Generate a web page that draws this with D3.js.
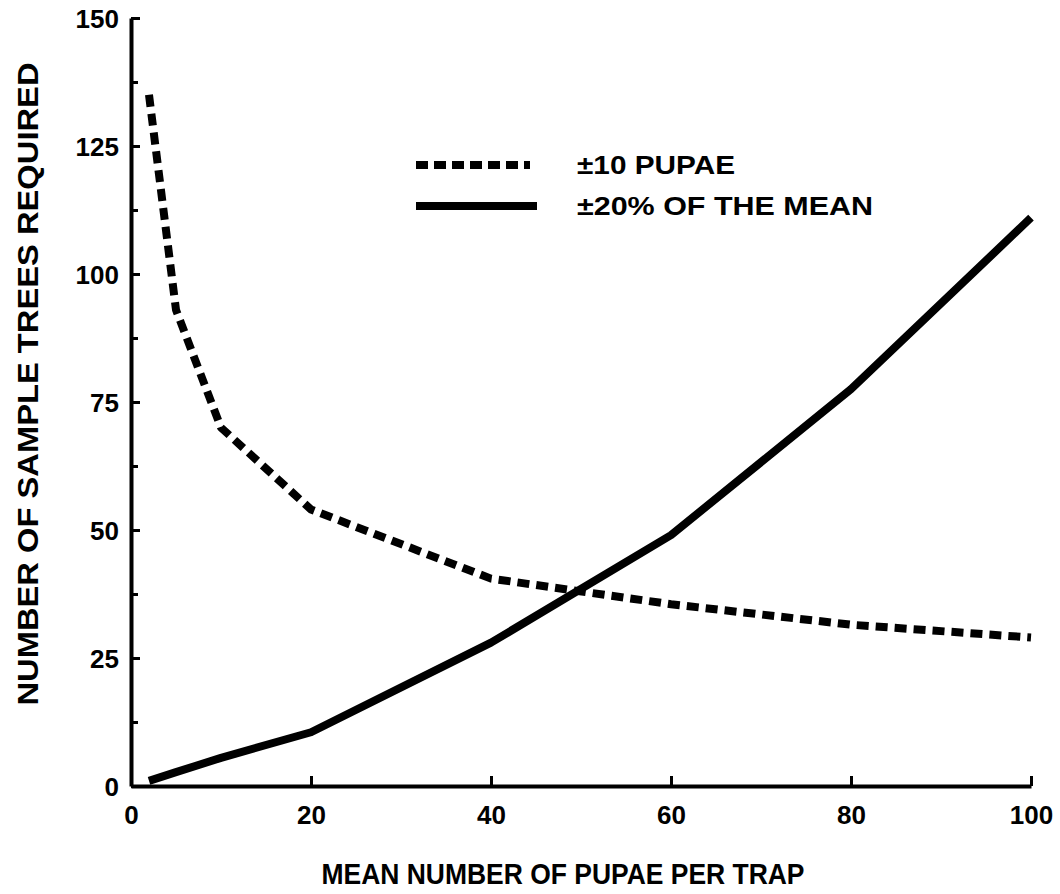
<!DOCTYPE html>
<html>
<head>
<meta charset="utf-8">
<script src="https://d3js.org/d3.v7.min.js"></script>
<style>
  html, body { margin: 0; padding: 0; background: #fff; }
  svg { display: block; }
</style>
</head>
<body>
<div id="chart"></div>
<script>
// Sample trees needed vs mean pupae per trap
const meanPupae = [2, 5, 10, 20, 40, 60, 80, 100];
const treesPlusMinus10 = [135, 93, 70, 54, 40.5, 35.5, 31.5, 29];
const treesPct20 = [1, 2.7, 5.5, 10.5, 28, 49, 77.5, 111];

const xTicks = [0, 20, 40, 60, 80, 100];
const yTicks = [0, 25, 50, 75, 100, 125, 150];
const yMinorTicks = [12.5, 37.5, 62.5, 87.5, 112.5, 137.5];

const legendLabels = ['\u00B110 PUPAE', '\u00B120% OF THE MEAN'];

const width = 1060;
const height = 894;
const fontFamily = '"Liberation Sans", Arial, sans-serif';

const svg = d3.select('#chart').append('svg')
    .attr('width', width)
    .attr('height', height);

const x = d3.scaleLinear().domain([0, 100]).range([131, 1031]);
const y = d3.scaleLinear().domain([0, 150]).range([786, 18]);

// minor y ticks first, so the main axes sit on top
const yMinor = svg.append('g')
    .attr('transform', `translate(${x(0)},0)`)
    .call(d3.axisLeft(y).tickValues(yMinorTicks).tickSize(-7).tickFormat(''));
yMinor.select('.domain').remove();

// axes - ticks point inward like the original
const xAxis = svg.append('g')
    .attr('transform', `translate(0,${y(0)})`)
    .call(d3.axisBottom(x).tickValues(xTicks).tickSizeInner(-10).tickSizeOuter(0).tickPadding(22));
const yAxis = svg.append('g')
    .attr('transform', `translate(${x(0)},0)`)
    .call(d3.axisLeft(y).tickValues(yTicks).tickSizeInner(-9).tickSizeOuter(0).tickPadding(12));

svg.selectAll('.domain').style('stroke-width', '4px');
svg.selectAll('.tick line').style('stroke-width', '3px');
svg.selectAll('.tick text')
    .style('font-family', fontFamily)
    .style('font-weight', '700')
    .style('font-size', '26px');
xAxis.selectAll('.tick text').attr('y', 20).attr('dy', '0.71em');
yAxis.selectAll('.tick text').attr('dy', '0.36em');

// axis titles
svg.append('text')
    .attr('x', 563)
    .attr('y', 884)
    .attr('text-anchor', 'middle')
    .attr('textLength', 483)
    .attr('lengthAdjust', 'spacingAndGlyphs')
    .style('font-family', fontFamily)
    .style('font-weight', '700')
    .style('font-size', '30px')
    .text('MEAN NUMBER OF PUPAE PER TRAP');

svg.append('text')
    .attr('transform', 'translate(38,384) rotate(-90)')
    .attr('text-anchor', 'middle')
    .attr('textLength', 643)
    .attr('lengthAdjust', 'spacingAndGlyphs')
    .style('font-family', fontFamily)
    .style('font-weight', '700')
    .style('font-size', '29px')
    .text('NUMBER OF SAMPLE TREES REQUIRED');

// curves
const dashedData = meanPupae.map((m, i) => [m, treesPlusMinus10[i]]);
const solidData = meanPupae.map((m, i) => [m, treesPct20[i]]);

const line = d3.line()
    .x(d => x(d[0]))
    .y(d => y(d[1]))
    .curve(d3.curveLinear);

svg.append('path')
    .datum(dashedData)
    .attr('d', line)
    .attr('fill', 'none')
    .attr('stroke', '#000')
    .attr('stroke-width', 8)
    .attr('stroke-linejoin', 'round')
    .attr('stroke-dasharray', '12,7');

svg.append('path')
    .datum(solidData)
    .attr('d', line)
    .attr('fill', 'none')
    .attr('stroke', '#000')
    .attr('stroke-linejoin', 'round')
    .attr('stroke-width', 8);

// legend
const legend = svg.append('g');
const legendRows = [
    { label: legendLabels[0], dash: '12,6', y: 165, x2: 530, w: 158 },
    { label: legendLabels[1], dash: null, y: 206, x2: 537, w: 296 }
];
legendRows.forEach(r => {
    legend.append('line')
        .attr('x1', 416).attr('x2', r.x2)
        .attr('y1', r.y).attr('y2', r.y)
        .attr('stroke', '#000')
        .attr('stroke-width', 8)
        .attr('stroke-dasharray', r.dash);
    legend.append('text')
        .attr('x', 577)
        .attr('y', r.y + 9)
        .attr('textLength', r.w)
        .attr('lengthAdjust', 'spacingAndGlyphs')
        .style('font-family', fontFamily)
        .style('font-weight', '700')
        .style('font-size', '26px')
        .text(r.label);
});
</script>
</body>
</html>
